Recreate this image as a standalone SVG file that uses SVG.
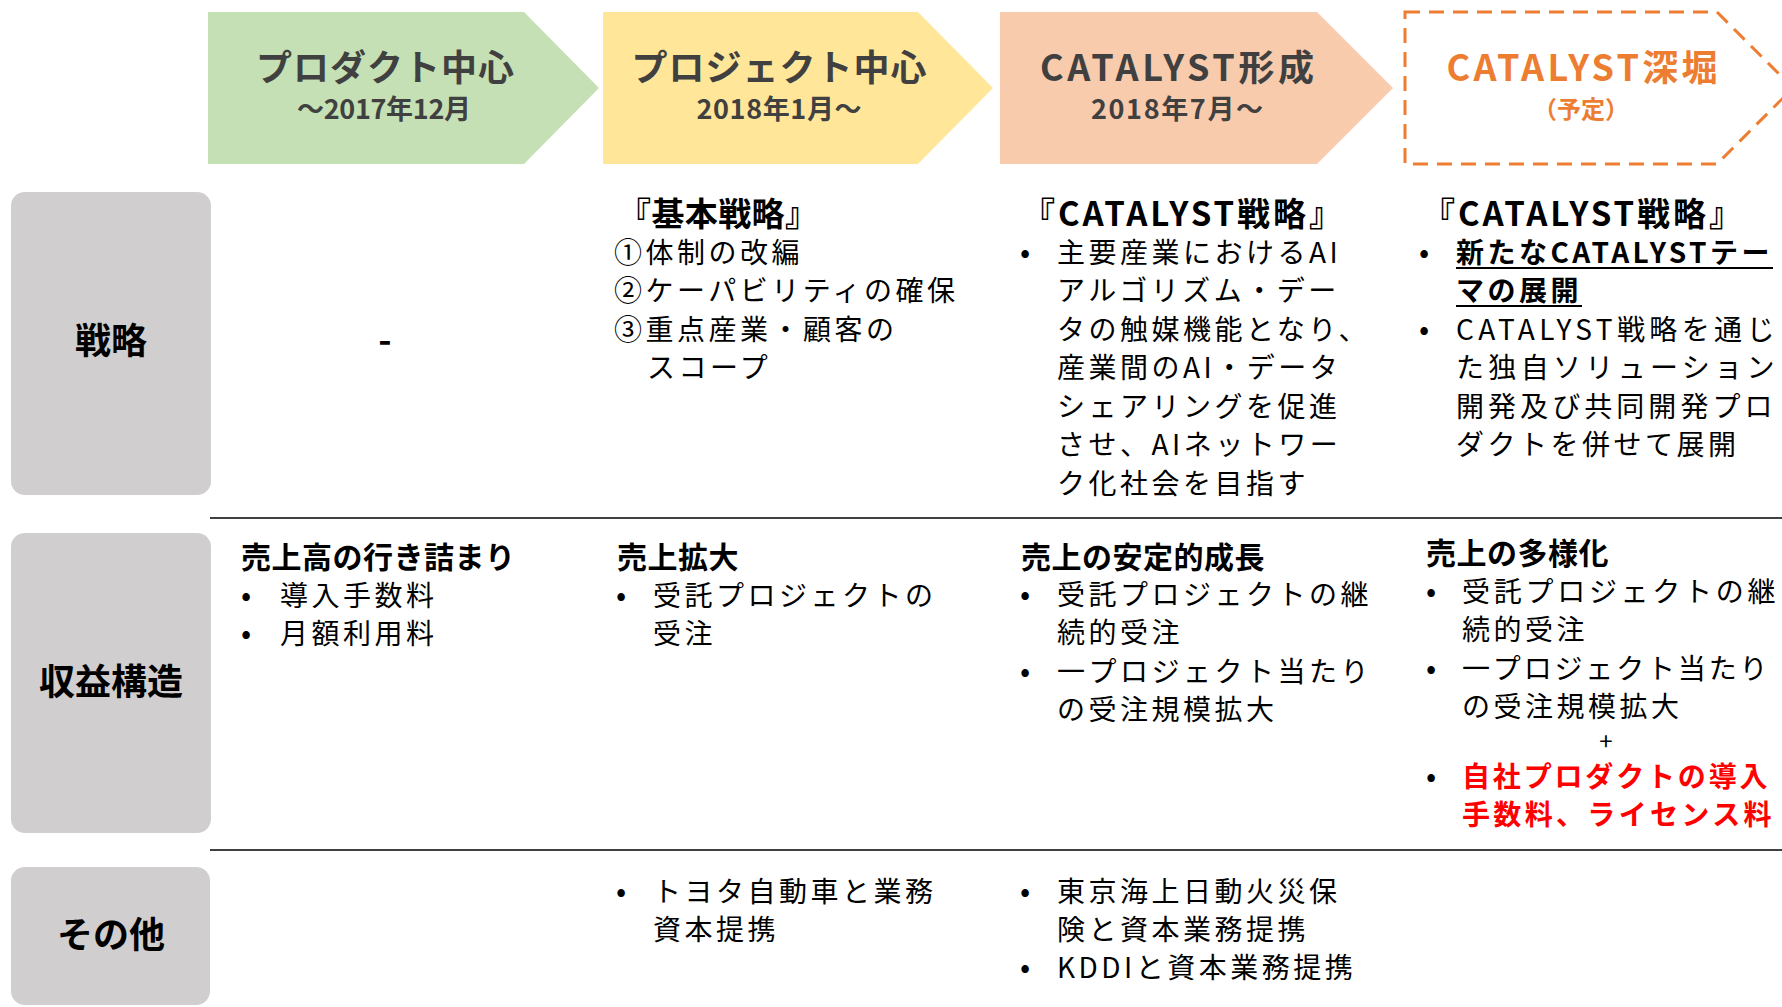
<svg xmlns="http://www.w3.org/2000/svg" width="1782" height="1007" viewBox="0 0 1782 1007">
<style>
text { font-family: "Noto Sans CJK JP", "Noto Sans", sans-serif; }
.title { font-size: 36px; font-weight: 700; fill: #404040; text-anchor: middle; }
.sub { font-size: 27px; font-weight: 700; fill: #404040; text-anchor: middle; }
.orange { fill: #ED7D31; }
.label { font-size: 36px; font-weight: 700; fill: #000; text-anchor: middle; }
.head { font-size: 30px; font-weight: 700; fill: #000; letter-spacing: 0.5px; }
.shead { font-size: 33px; font-weight: 700; fill: #000; }
.body { font-size: 28px; fill: #000; letter-spacing: 3.5px; }
.bold { font-weight: 700; }
.red { fill: #FF0000; }
.bul { font-size: 30px; fill: #000; text-anchor: middle; }
.box { fill: #D0CECE; }
.rule { stroke: #404040; stroke-width: 2; }
</style>

<g id="phase-product">
  <polygon points="208,12 524,12 599,88 524,164 208,164" fill="#C5E0B4"/>
  <text class="title" x="385" y="81" textLength="258">プロダクト中心</text>
  <text class="sub" x="384" y="119" textLength="174">～2017年12月</text>
</g>
<g id="phase-project">
  <polygon points="603,12 918,12 993,88 918,164 603,164" fill="#FFE699"/>
  <text class="title" x="779" y="81" textLength="295">プロジェクト中心</text>
  <text class="sub" x="779" y="119" textLength="165">2018年1月～</text>
</g>
<g id="phase-catalyst">
  <polygon points="1000,12 1317,12 1393,88 1317,164 1000,164" fill="#F8CBAD"/>
  <text class="title" x="1177" y="81" textLength="274">CATALYST形成</text>
  <text class="sub" x="1177" y="119" textLength="172">2018年7月～</text>
</g>
<g id="phase-deep">
  <path d="M1405,12 L1717,12 L1793,88 L1717,164 L1405,164 Z" fill="none" stroke="#ED7D31" stroke-width="3" stroke-dasharray="15,9"/>
  <text class="title orange" x="1582" y="81" textLength="271">CATALYST深堀</text>
  <text class="sub orange" x="1581" y="118" style="font-size:24px">（予定）</text>
</g>

<g id="label-strategy">
  <rect class="box" x="11" y="192" width="200" height="303" rx="14"/>
  <text class="label" x="111" y="354">戦略</text>
</g>
<g id="label-revenue">
  <rect class="box" x="11" y="533" width="200" height="300" rx="14"/>
  <text class="label" x="111" y="695">収益構造</text>
</g>
<g id="label-other">
  <rect class="box" x="11" y="867" width="199" height="138" rx="14"/>
  <text class="label" x="111" y="948">その他</text>
</g>

<g id="rules">
  <line class="rule" x1="210" y1="518" x2="1782" y2="518"/>
  <line class="rule" x1="210" y1="850" x2="1782" y2="850"/>
</g>

<g id="strategy-product">
  <text x="385" y="353" style="font-size:36px;font-weight:700;text-anchor:middle">-</text>
</g>
<g id="strategy-project">
  <text class="shead" x="618" y="226" textLength="200">『基本戦略』</text>
  <text class="body" x="614" y="262.5">①体制の改編</text>
  <text class="body" x="614" y="301">②ケーパビリティの確保</text>
  <text class="body" x="614" y="339.5">③重点産業・顧客の</text>
  <text class="body" x="647" y="378">スコープ</text>
</g>
<g id="strategy-catalyst">
  <text class="shead" x="1022" y="226" textLength="320">『CATALYST戦略』</text>
  <text class="bul" x="1025" y="262.5">•</text>
  <text class="body" x="1057" y="262.5">主要産業におけるAI</text>
  <text class="body" x="1057" y="301">アルゴリズム・デー</text>
  <text class="body" x="1057" y="339.5">タの触媒機能となり、</text>
  <text class="body" x="1057" y="378">産業間のAI・データ</text>
  <text class="body" x="1057" y="416.5">シェアリングを促進</text>
  <text class="body" x="1057" y="455">させ、AIネットワー</text>
  <text class="body" x="1057" y="493.5">ク化社会を目指す</text>
</g>
<g id="strategy-deep">
  <text class="shead" x="1422" y="226" textLength="320">『CATALYST戦略』</text>
  <text class="bul" x="1424" y="262.5">•</text>
  <text class="body bold" x="1456" y="262.5" textLength="317">新たなCATALYSTテー</text>
  <text class="body bold" x="1456" y="301">マの展開</text>
  <line x1="1456" y1="268" x2="1773" y2="268" stroke="#000" stroke-width="2"/>
  <line x1="1456" y1="306" x2="1582" y2="306" stroke="#000" stroke-width="2"/>
  <text class="bul" x="1424" y="339.5">•</text>
  <text class="body" x="1456" y="339.5" textLength="322">CATALYST戦略を通じ</text>
  <text class="body" x="1456" y="378" textLength="322">た独自ソリューション</text>
  <text class="body" x="1456" y="416.5" textLength="320">開発及び共同開発プロ</text>
  <text class="body" x="1456" y="455">ダクトを併せて展開</text>
</g>

<g id="revenue-product">
  <text class="head" x="241" y="568">売上高の行き詰まり</text>
  <text class="bul" x="246" y="606">•</text>
  <text class="body" x="280" y="606">導入手数料</text>
  <text class="bul" x="246" y="644">•</text>
  <text class="body" x="280" y="644">月額利用料</text>
</g>
<g id="revenue-project">
  <text class="head" x="617" y="568">売上拡大</text>
  <text class="bul" x="621" y="606">•</text>
  <text class="body" x="653" y="606">受託プロジェクトの</text>
  <text class="body" x="653" y="644">受注</text>
</g>
<g id="revenue-catalyst">
  <text class="head" x="1021" y="568">売上の安定的成長</text>
  <text class="bul" x="1025" y="605">•</text>
  <text class="body" x="1057" y="605">受託プロジェクトの継</text>
  <text class="body" x="1057" y="643">続的受注</text>
  <text class="bul" x="1025" y="682">•</text>
  <text class="body" x="1057" y="682">一プロジェクト当たり</text>
  <text class="body" x="1057" y="720">の受注規模拡大</text>
</g>
<g id="revenue-deep">
  <text class="head" x="1426" y="564">売上の多様化</text>
  <text class="bul" x="1431" y="602">•</text>
  <text class="body" x="1462" y="602" textLength="317">受託プロジェクトの継</text>
  <text class="body" x="1462" y="640">続的受注</text>
  <text class="bul" x="1431" y="679">•</text>
  <text class="body" x="1462" y="679" textLength="309">一プロジェクト当たり</text>
  <text class="body" x="1462" y="717">の受注規模拡大</text>
  <text x="1606" y="750" style="font-size:24px;text-anchor:middle;fill:#000">+</text>
  <text class="bul red" x="1431" y="787">•</text>
  <text class="body bold red" x="1462" y="787" textLength="309">自社プロダクトの導入</text>
  <text class="body bold red" x="1462" y="825" textLength="313">手数料、ライセンス料</text>
</g>

<g id="other-project">
  <text class="bul" x="621" y="902">•</text>
  <text class="body" x="653" y="902">トヨタ自動車と業務</text>
  <text class="body" x="653" y="940">資本提携</text>
</g>
<g id="other-catalyst">
  <text class="bul" x="1025" y="902">•</text>
  <text class="body" x="1057" y="902">東京海上日動火災保</text>
  <text class="body" x="1057" y="940">険と資本業務提携</text>
  <text class="bul" x="1025" y="978">•</text>
  <text class="body" x="1057" y="978" letter-spacing="2">KDDIと資本業務提携</text>
</g>
</svg>
